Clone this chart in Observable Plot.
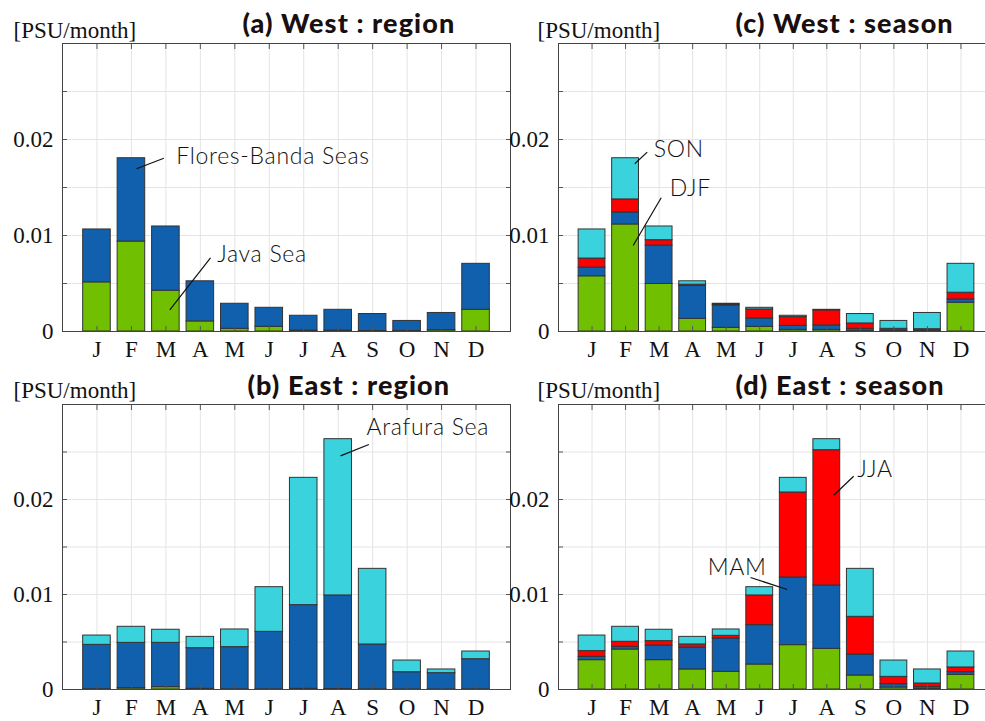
<!DOCTYPE html>
<html><head><meta charset="utf-8">
<script src="https://cdn.jsdelivr.net/npm/d3@7"></script>
<script src="https://cdn.jsdelivr.net/npm/@observablehq/plot@0.6"></script>
<style>
html,body{margin:0;padding:0;background:#fff;overflow:hidden;width:985px;height:721px;}
#wrap{position:relative;width:1000px;height:721px;overflow:hidden;}
.panel{position:absolute;}
</style></head><body><div id="wrap"></div>
<script>
// ---------- data ----------
const months = [1,2,3,4,5,6,7,8,9,10,11,12];
const monthLabels = ["J","F","M","A","M","J","J","A","S","O","N","D"];
const yTicksMajor = [0, 0.01, 0.02];
const yTicksMinor = [0, 0.005, 0.01, 0.015, 0.02, 0.025, 0.03];

// (a) West : region
const westJava  = [0.00512,0.00937,0.00425,0.00105,0.00028,0.00049,0.00010,0.00010,0.00005,0.00005,0.00014,0.00226];
const westFlores= [0.00551,0.00868,0.00669,0.00418,0.00261,0.00198,0.00154,0.00216,0.00177,0.00105,0.00179,0.00479];

// (c) West : season
const westDJF = [0.00575,0.01115,0.00495,0.00132,0.00038,0.00049,0.00017,0.00017,0.00007,0.00003,0.00003,0.00300];
const westMAM = [0.00091,0.00125,0.00400,0.00342,0.00234,0.00087,0.00042,0.00046,0.00021,0.00007,0.00007,0.00034];
const westJJA = [0.00094,0.00136,0.00056,0.00014,0.00010,0.00094,0.00091,0.00157,0.00056,0.00018,0.00014,0.00070];
const westSON = [0.00303,0.00429,0.00143,0.00035,0.00007,0.00017,0.00014,0.00006,0.00098,0.00082,0.00169,0.00301];

// (b) East : region
const eastOther   = [0.00003,0.00014,0.00025,0.00007,0.00002,0.00002,0.00007,0.00005,0.00002,0.00001,0.00001,0.00002];
const eastBanda   = [0.00467,0.00477,0.00466,0.00428,0.00444,0.00605,0.00881,0.00985,0.00472,0.00181,0.00171,0.00317];
const eastArafura = [0.00098,0.00169,0.00138,0.00119,0.00186,0.00470,0.01340,0.01645,0.00796,0.00123,0.00039,0.00081];

// (d) East : season
const eastDJF = [0.00309,0.00421,0.00309,0.00211,0.00186,0.00263,0.00467,0.00428,0.00147,0.00021,0.00007,0.00154];
const eastMAM = [0.00035,0.00028,0.00154,0.00231,0.00351,0.00414,0.00712,0.00667,0.00221,0.00035,0.00021,0.00028];
const eastJJA = [0.00060,0.00053,0.00046,0.00032,0.00028,0.00313,0.00895,0.01424,0.00397,0.00077,0.00035,0.00050];
const eastSON = [0.00164,0.00158,0.00120,0.00080,0.00067,0.00087,0.00154,0.00116,0.00505,0.00172,0.00148,0.00168];

// annotations (data coordinates: month axis, value axis)
const notesA = [{x:3.30,y:0.01826,t:"Flores-Banda Seas"},{x:4.49,y:0.00802,t:"Java Sea"}];
const linesA = [{x1:2.94,y1:0.01805,x2:2.147,y2:0.01695},{x1:4.295,y1:0.00768,x2:3.114,y2:0.00226}];
const notesC = [{x:2.84,y:0.0189,t:"SON"},{x:3.32,y:0.0149,t:"DJF"}];
const linesC = [{x1:2.645,y1:0.01868,x2:2.275,y2:0.01747},{x1:3.062,y1:0.01393,x2:2.227,y2:0.00896}];
const notesB = [{x:8.82,y:0.02761,t:"Arafura Sea"}];
const linesB = [{x1:8.89,y1:0.02579,x2:8.067,y2:0.02459}];
const notesD = [{x:8.906,y:0.02312,t:"JJA"},{x:4.45,y:0.01287,t:"MAM"}];
const linesD = [{x1:8.80,y1:0.02245,x2:8.208,y2:0.02045},{x1:5.725,y1:0.01179,x2:6.819,y2:0.01053}];

const GREEN="#70bf00", BLUE="#1060ae", RED="#ff0000", CYAN="#3ad3dd";
const SERIF = "'Liberation Serif','DejaVu Serif',serif";
const SANS = "Lato, 'Open Sans', sans-serif";

const panels = [
  {left:0, top:0, width:520, height:370, mt:43, mb:39, ml:62, mr:10,
   title:"(a) West : region", tdx:180, tdy:-11, udx:-49, udy:-6,
   series:[{n:"Java Sea",v:westJava,c:GREEN},{n:"Flores-Banda Seas",v:westFlores,c:BLUE}],
   notes:notesA, lines:linesA},
  {left:496, top:0, width:500, height:370, mt:43, mb:39, ml:62, mr:2,
   title:"(c) West : season", tdx:177, tdy:-11, udx:-21, udy:-6,
   series:[{n:"DJF",v:westDJF,c:GREEN},{n:"MAM",v:westMAM,c:BLUE},{n:"JJA",v:westJJA,c:RED},{n:"SON",v:westSON,c:CYAN}],
   notes:notesC, lines:linesC},
  {left:0, top:360, width:520, height:370, mt:44, mb:41, ml:62, mr:10,
   title:"(b) East : region", tdx:185, tdy:-10, udx:-49, udy:-7,
   series:[{n:"other",v:eastOther,c:GREEN},{n:"Banda",v:eastBanda,c:BLUE},{n:"Arafura Sea",v:eastArafura,c:CYAN}],
   notes:notesB, lines:linesB},
  {left:496, top:360, width:500, height:370, mt:44, mb:41, ml:62, mr:2,
   title:"(d) East : season", tdx:177, tdy:-10, udx:-21, udy:-7,
   series:[{n:"DJF",v:eastDJF,c:GREEN},{n:"MAM",v:eastMAM,c:BLUE},{n:"JJA",v:eastJJA,c:RED},{n:"SON",v:eastSON,c:CYAN}],
   notes:notesD, lines:linesD}
];

const wrap = document.getElementById("wrap");
for (const p of panels) {
  const rows = [];
  months.forEach((m, i) => {
    let acc = 0;
    for (const s of p.series) {
      const v = s.v[i];
      rows.push({m, s:s.n, y1:acc, y2:acc+v, c:s.c});
      acc += v;
    }
  });
  const chart = Plot.plot({
    width:p.width, height:p.height,
    marginTop:p.mt, marginBottom:p.mb, marginLeft:p.ml, marginRight:p.mr,
    x:{domain:[0,13], axis:null},
    y:{domain:[0,0.03], axis:null},
    style:{background:"transparent", overflow:"visible", maxWidth:"none"},
    marks:[
      Plot.gridX(months, {stroke:"#e4e4e4", strokeOpacity:1}),
      Plot.gridY(yTicksMinor, {stroke:"#e4e4e4", strokeOpacity:1}),
      Plot.rect(rows, {x1:d=>d.m-0.4, x2:d=>d.m+0.4, y1:"y1", y2:"y2", fill:"c", stroke:"#333", strokeWidth:1}),
      Plot.axisX(months, {anchor:"bottom", tickSize:-5, tickFormat:()=>"", label:null, stroke:"#555"}),
      Plot.axisX(months, {anchor:"top", tickSize:-5, tickFormat:()=>"", label:null, stroke:"#555"}),
      Plot.axisY(yTicksMinor, {anchor:"left", tickSize:-5, tickFormat:()=>"", label:null, stroke:"#555"}),
      Plot.axisY(yTicksMinor, {anchor:"right", tickSize:-5, tickFormat:()=>"", label:null, stroke:"#555"}),
      Plot.axisX(months, {anchor:"bottom", tickSize:0, tickPadding:9, tickFormat:m=>monthLabels[m-1], label:null, fontSize:23, fontFamily:SERIF, fill:"#111"}),
      Plot.axisY(yTicksMajor, {anchor:"left", tickSize:0, tickPadding:9, tickFormat:d=>d===0?"0":d.toFixed(2), label:null, fontSize:23, fontFamily:SERIF, fill:"#111"}),
      Plot.frame({stroke:"#444"}),
      Plot.link(p.lines, {x1:"x1", y1:"y1", x2:"x2", y2:"y2", stroke:"#111", strokeWidth:1.2}),
      Plot.text(p.notes, {x:"x", y:"y", text:"t", textAnchor:"start", lineAnchor:"middle", fontSize:23, fontWeight:300, fontFamily:SANS, fill:"#111"}),
      Plot.text([p.title], {text:d=>d, frameAnchor:"top-left", dx:p.tdx, dy:p.tdy, textAnchor:"start", lineAnchor:"bottom", fontSize:27, fontWeight:900, fontFamily:SANS, fill:"#1a0f0f"}),
      Plot.text(["[PSU/month]"], {text:d=>d, frameAnchor:"top-left", dx:p.udx, dy:p.udy, textAnchor:"start", lineAnchor:"bottom", fontSize:23, fontFamily:SERIF, fill:"#111"})
    ]
  });
  // letter spacing to mimic the wider geometric typeface of the original
  chart.querySelectorAll("text").forEach(t => {
    const s = t.textContent;
    if (s === p.title) t.style.letterSpacing = "1.1px";
    else if (p.notes.some(n => n.t === s)) t.style.letterSpacing = "0.7px";
  });
  const div = document.createElement("div");
  div.className = "panel";
  div.style.left = p.left + "px";
  div.style.top = p.top + "px";
  div.appendChild(chart);
  wrap.appendChild(div);
}
</script></body></html>
